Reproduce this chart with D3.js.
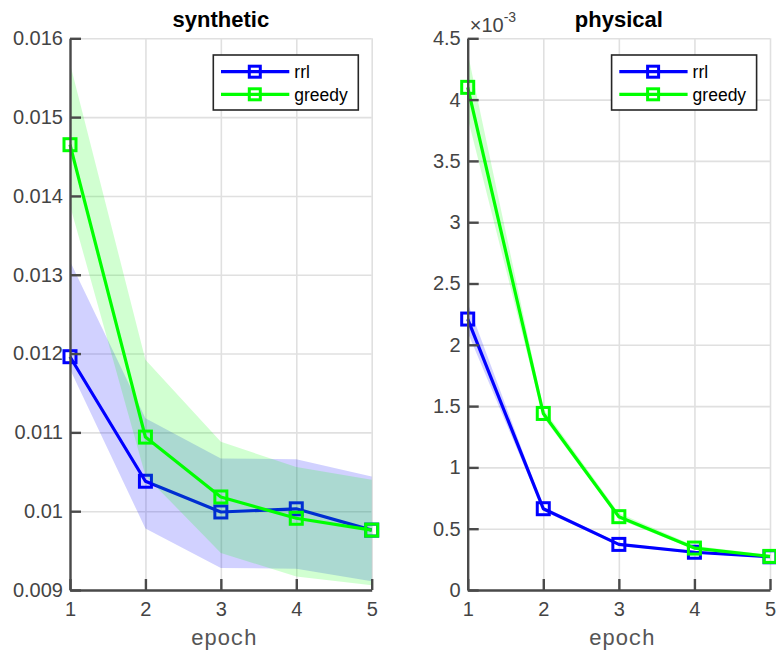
<!DOCTYPE html>
<meta charset="utf-8">
<style>
body { margin: 0; background: #fff; }
svg text { font-family: "Liberation Sans", Arial, Helvetica, sans-serif; }
svg text.mono { font-family: "Liberation Mono", "Courier New", "DejaVu Sans Mono", monospace; }
.grid line { stroke: #e0e0e0; stroke-width: 1.6px; }
.grid path { display: none; }
.axis path, .axis line { stroke: #4a4a4a; stroke-width: 2.4px; }
.axis text { fill: #444; font-size: 20px; }
.band { stroke: none; }
.line { fill: none; stroke-width: 3.2px; stroke-linejoin: round; }
.mark { fill: none; stroke-width: 3px; }
</style>
<svg width="776" height="658"></svg>
<script src="https://d3js.org/d3.v7.min.js"></script>
<script>
var epochs = [1, 2, 3, 4, 5];

// synthetic panel
var synRrl      = [0.01196, 0.01038, 0.00999, 0.01003, 0.00976];
var synRrlLo    = [0.01180, 0.00978, 0.00928, 0.00927, 0.00911];
var synRrlHi    = [0.01317, 0.01118, 0.01067, 0.01066, 0.01044];
var synGreedy   = [0.01465, 0.01094, 0.01018, 0.00991, 0.00976];
var synGreedyLo = [0.01388, 0.01045, 0.00947, 0.00917, 0.00906];
var synGreedyHi = [0.01568, 0.01192, 0.01088, 0.01056, 0.01040];
var synTicks = [0.009, 0.010, 0.011, 0.012, 0.013, 0.014, 0.015, 0.016];

// physical panel
var phyRrl      = [2.21e-3, 0.663e-3, 0.372e-3, 0.308e-3, 0.271e-3];
var phyRrlLo    = [2.10e-3, 0.645e-3, 0.360e-3, 0.298e-3, 0.262e-3];
var phyRrlHi    = [2.34e-3, 0.680e-3, 0.384e-3, 0.318e-3, 0.280e-3];
var phyGreedy   = [4.10e-3, 1.44e-3, 0.598e-3, 0.342e-3, 0.274e-3];
var phyGreedyLo = [3.85e-3, 1.41e-3, 0.578e-3, 0.330e-3, 0.265e-3];
var phyGreedyHi = [4.38e-3, 1.48e-3, 0.628e-3, 0.360e-3, 0.285e-3];
var phyTicks = [0, 0.5e-3, 1e-3, 1.5e-3, 2e-3, 2.5e-3, 3e-3, 3.5e-3, 4e-3, 4.5e-3];

var seriesNames = ["rrl", "greedy"];
var seriesColors = ["#0000ff", "#00ff00"];

var svg = d3.select("svg");

function panel(p) {
  var w = p.x1 - p.x0, h = p.y1 - p.y0;
  var g = svg.append("g").attr("transform", "translate(" + p.x0 + "," + p.y0 + ")");
  var x = d3.scaleLinear().domain([1, 5]).range([0, w]);
  var y = d3.scaleLinear().domain(p.domain).range([h, 0]);

  g.append("g").attr("class", "grid")
      .call(d3.axisLeft(y).tickValues(p.ticks).tickSize(-w).tickFormat(""));
  g.append("g").attr("class", "grid").attr("transform", "translate(0," + h + ")")
      .call(d3.axisBottom(x).tickValues(epochs).tickSize(-h).tickFormat(""));

  var area = function(lo, hi) {
    return d3.area().x(function(d, i) { return x(epochs[i]); })
        .y0(function(d, i) { return y(lo[i]); })
        .y1(function(d, i) { return y(hi[i]); })(epochs);
  };
  var line = d3.line().x(function(d, i) { return x(epochs[i]); }).y(function(d) { return y(d); });

  p.series.forEach(function(s, k) {
    var c = seriesColors[k];
    g.append("path").attr("class", "band").attr("d", area(s.lo, s.hi))
        .attr("fill", c).attr("fill-opacity", 0.18);
    g.append("path").attr("class", "line").attr("d", line(s.mean)).attr("stroke", c);
    g.selectAll(null).data(s.mean).enter().append("rect").attr("class", "mark")
        .attr("x", function(d, i) { return x(epochs[i]) - 6; })
        .attr("y", function(d) { return y(d) - 6; })
        .attr("width", 12).attr("height", 12).attr("stroke", c);
  });

  g.append("g").attr("class", "axis")
      .call(d3.axisLeft(y).tickValues(p.ticks).tickSizeInner(-11).tickSizeOuter(0)
        .tickPadding(7).tickFormat(p.fmt));
  g.append("g").attr("class", "axis").attr("transform", "translate(0," + h + ")")
      .call(d3.axisBottom(x).tickValues(epochs).tickSizeInner(-11).tickSizeOuter(0)
        .tickPadding(12).tickFormat(d3.format("d")));

  g.append("text").attr("x", w / 2).attr("y", 27 - p.y0)
      .attr("text-anchor", "middle").attr("font-weight", "bold").attr("font-size", 22)
      .attr("fill", "#000").text(p.title);
  g.append("text").attr("class", "mono").attr("x", w / 2 + 3).attr("y", 645 - p.y0)
      .attr("text-anchor", "middle")
      .attr("font-size", 22).attr("fill", "#555").text("epoch");

  if (p.exponent) {
    var t = g.append("text").attr("x", 2).attr("y", 32 - p.y0)
        .attr("font-size", 20).attr("fill", "#444");
    t.append("tspan").text("\u00d710");
    t.append("tspan").attr("font-size", 14).attr("dy", -10).text("-3");
  }

  // legend
  var lw = 145, lh = 55;
  var lg = g.append("g").attr("transform", "translate(" + (w - 13.4 - lw) + ",16.7)");
  lg.append("rect").attr("width", lw).attr("height", lh)
      .attr("fill", "#fff").attr("stroke", "#262626").attr("stroke-width", 1.6);
  seriesNames.forEach(function(n, k) {
    var ry = 16.7 + k * 22.6;
    lg.append("line").attr("x1", 7.7).attr("x2", 76).attr("y1", ry).attr("y2", ry)
        .attr("stroke", seriesColors[k]).attr("stroke-width", 3.2);
    lg.append("rect").attr("class", "mark").attr("x", 41.5 - 5.5).attr("y", ry - 5.5)
        .attr("width", 11).attr("height", 11).attr("stroke", seriesColors[k]);
    lg.append("text").attr("x", 81).attr("y", ry + 6.5).attr("font-size", 17.5)
        .attr("fill", "#000").text(n);
  });
}

panel({
  x0: 70, x1: 371.7, y0: 38.3, y1: 590,
  domain: [0.009, 0.016], ticks: synTicks, title: "synthetic",
  fmt: function(d) { return String(+d.toFixed(3)); },
  series: [
    {mean: synRrl, lo: synRrlLo, hi: synRrlHi},
    {mean: synGreedy, lo: synGreedyLo, hi: synGreedyHi}
  ]
});

panel({
  x0: 467.7, x1: 770, y0: 38.3, y1: 590,
  domain: [0, 4.5e-3], ticks: phyTicks, title: "physical", exponent: true,
  fmt: function(d) { return String(+(d * 1000).toFixed(1)); },
  series: [
    {mean: phyRrl, lo: phyRrlLo, hi: phyRrlHi},
    {mean: phyGreedy, lo: phyGreedyLo, hi: phyGreedyHi}
  ]
});
</script>
